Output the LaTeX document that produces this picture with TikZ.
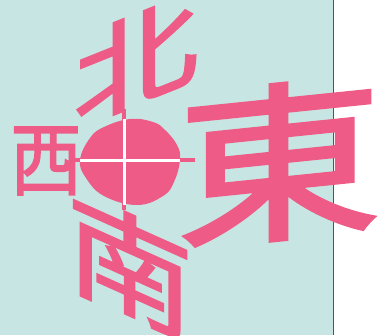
\documentclass[tikz,border=0pt]{standalone}
\usepackage{fontspec}
\newfontfamily\cjk{Noto Sans CJK JP}[RawFeature={embolden=2}]
\definecolor{bg}{HTML}{C7E6E3}
\definecolor{pk}{HTML}{EF5B87}
\definecolor{edge}{HTML}{555555}
\begin{document}
\begin{tikzpicture}[x=1pt,y=-1pt,
  ch/.style={inner sep=0pt, text=pk, font=\cjk\fontsize{100}{100}\selectfont},
  pinkline/.style={draw=pk, line width=4pt},
  whiteline/.style={draw=white, line width=3pt}]
\useasboundingbox (0,0) rectangle (387,335);
\fill[white] (0,0) rectangle (387,335);
\fill[bg] (0,0) rectangle (333,335);
\draw[edge, line width=1pt] (333.5,0) -- (333.5,335);
% crosshair
\coordinate (hl) at (72,160);
\coordinate (hr) at (195,160);
\coordinate (vt) at (124,109);
\coordinate (vb) at (124,210);
\coordinate (wl) at (80,160);
\coordinate (wr) at (180,160);
\coordinate (wt) at (124,119);
\coordinate (wb) at (124,205);
\draw[pinkline] (hl) -- (hr);
\draw[pinkline] (vt) -- (vb);
\fill[pk] plot[smooth cycle, tension=0.7] coordinates {(80,160) (90,138) (104,127) (130,119) (153,122) (165,130) (177,145) (180,160) (174,182) (163,196) (137,205) (104,196) (86,178)};
\draw[whiteline] (wl) -- (wr);
\draw[whiteline] (wt) -- (wb);
% characters
\node[ch, cm={1.25,0.5,0,1.03,(136,60)}] (bei) at (0,0) {北};
\node[ch, cm={0.71,0,0,0.8,(46,161)}] (xi) at (0,0) {西};
\node[ch, cm={1.27,-0.57,0,1.13,(130,266)}] (nan) at (0,0) {南};
\node[ch, cm={2.05,0.21,0,1.7,(279,162)}] (dong) at (0,0) {東};
\end{tikzpicture}
\end{document}
